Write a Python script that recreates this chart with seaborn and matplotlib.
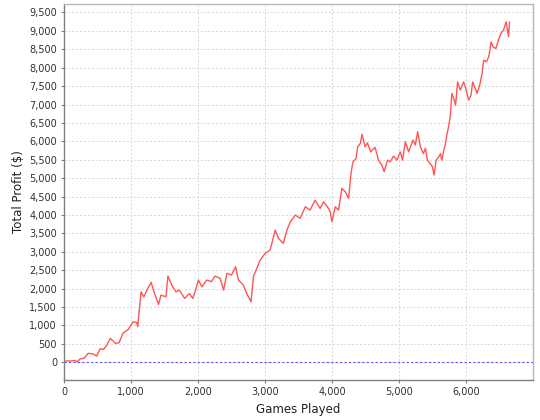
import pandas as pd
import matplotlib
matplotlib.use("Agg")
import matplotlib.pyplot as plt
import matplotlib.ticker as mticker
import seaborn as sns

# values
games = [0, 50, 100, 150, 200, 239, 300, 360, 430, 488, 540, 590, 640, 690, 720,
         770, 820, 880, 960, 1030, 1085, 1100, 1125, 1150, 1190, 1250, 1300, 1350,
         1410, 1445, 1520, 1550, 1620, 1670, 1720, 1800, 1870, 1920, 1955, 2005,
         2055, 2130, 2200, 2250, 2330, 2380, 2430, 2500, 2560, 2600, 2675, 2725,
         2790, 2825, 2875, 2925, 3000, 3075, 3150, 3200, 3270, 3325, 3375, 3450,
         3520, 3600, 3670, 3745, 3820, 3870, 3945, 3970, 3995, 4045, 4095, 4145,
         4195, 4245, 4280, 4310, 4355, 4380, 4420, 4445, 4490, 4525, 4575, 4640,
         4690, 4740, 4775, 4825, 4865, 4915, 4965, 5015, 5050, 5090, 5140, 5205,
         5240, 5275, 5315, 5360, 5390, 5420, 5460, 5495, 5520, 5550, 5590, 5615,
         5635, 5660, 5690, 5710, 5735, 5760, 5785, 5820, 5840, 5870, 5910, 5960,
         6000, 6035, 6070, 6095, 6135, 6160, 6200, 6235, 6260, 6300, 6335, 6370,
         6400, 6440, 6480, 6515, 6555, 6595, 6615, 6630, 6645]
profit = [20, 40, 35, 50, 20, 90, 110, 245, 230, 170, 370, 350, 470, 650, 600,
          515, 530, 790, 895, 1100, 1080, 965, 1465, 1915, 1780, 2010, 2170, 1870,
          1570, 1825, 1780, 2340, 2050, 1915, 1960, 1735, 1870, 1735, 1915, 2235,
          2050, 2235, 2190, 2340, 2280, 1960, 2415, 2370, 2595, 2235, 2100, 1870,
          1645, 2325, 2550, 2775, 2960, 3050, 3590, 3365, 3230, 3590, 3815, 4000,
          3910, 4225, 4135, 4400, 4180, 4360, 4180, 4090, 3815, 4225, 4135, 4725,
          4630, 4450, 5130, 5445, 5535, 5850, 5945, 6195, 5850, 5960, 5715, 5835,
          5490, 5355, 5175, 5490, 5445, 5600, 5490, 5715, 5490, 5990, 5715, 6035,
          5900, 6260, 5850, 5670, 5810, 5490, 5400, 5310, 5085, 5490, 5580, 5670,
          5490, 5715, 5945, 6170, 6395, 6665, 7300, 7120, 6985, 7615, 7390, 7615,
          7390, 7120, 7255, 7615, 7435, 7300, 7525, 7845, 8205, 8160, 8295, 8700,
          8565, 8520, 8750, 8930, 9020, 9245, 9020, 8840, 9245]

df = pd.DataFrame({"games": games, "profit": profit})

sns.set_style("white")
plt.rcParams['font.family'] = ['DejaVu Sans']

fig = plt.figure(figsize=(5.4, 4.2), dpi=100)
ax = fig.add_axes([64/540, 1-380/420, (533-64)/540, (380-4)/420])

sns.lineplot(data=df, x="games", y="profit", ax=ax, color="#FF5555", linewidth=1.0)
ax.axhline(0, color="#5555FF", linewidth=0.8, linestyle=(0, (2, 2)))

ax.set_xlim(0, 6995)
ax.set_ylim(-480, 9730)
ax.xaxis.set_major_locator(mticker.MultipleLocator(1000))
ax.yaxis.set_major_locator(mticker.MultipleLocator(500))
ax.xaxis.set_major_formatter(mticker.StrMethodFormatter("{x:,.0f}"))
ax.yaxis.set_major_formatter(mticker.StrMethodFormatter("{x:,.0f}"))

ax.grid(True, color="#D8D8D8", linestyle=(0, (2, 2)), linewidth=0.7)
ax.set_axisbelow(True)

for s in ["top", "right"]:
    ax.spines[s].set_color("#B8B8B8")
    ax.spines[s].set_linewidth(1.0)
for s in ["left", "bottom"]:
    ax.spines[s].set_color("#808080")
    ax.spines[s].set_linewidth(1.0)

ax.tick_params(axis="both", direction="out", length=2, width=0.8, color="#808080",
               labelsize=7, labelcolor="#303030", pad=3, left=True, bottom=True)

ax.set_xlabel("Games Played", fontsize=8.5, color="#202020", labelpad=4)
ax.set_ylabel("Total Profit ($)", fontsize=8.5, color="#202020", labelpad=3)

fig.savefig("out.png", dpi=100)
